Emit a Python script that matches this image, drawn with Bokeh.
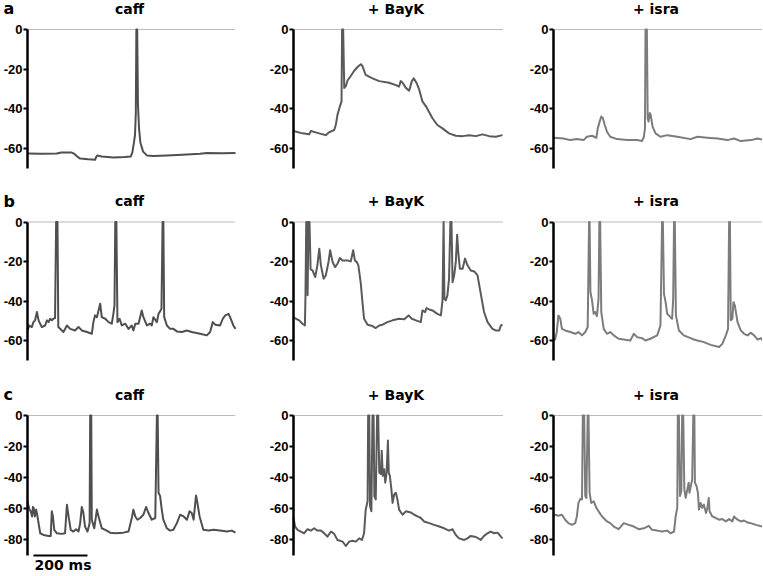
from bokeh.plotting import figure
from bokeh.layouts import gridplot
from bokeh.models import FixedTicker, Range1d
from bokeh.core.properties import value
from bokeh.embed import file_html
from bokeh.resources import INLINE

# ---------------- data (time in ms, membrane potential in mV) ----------------
row_letters = ["a", "b", "c"]
col_titles = ["caff", "+ BayK", "+ isra"]

a1_t = [0, 50, 108, 125, 164, 172, 183, 195, 225, 250, 255, 258, 275, 318, 360, 382, 388, 394, 398, 401,
        403, 406, 409, 413, 418, 428, 442, 466, 516, 590, 639, 664, 720, 770]
a1_v = [-62.5, -62.6, -62.4, -61.9, -62.0, -62.5, -63.8, -65.0, -65.4, -65.6, -64.0, -63.5, -64.0, -64.4, -64.2,
        -64.0, -62.0, -57.0, -53.0, -42.0, 0, 0, -38.0, -50.0, -57.0, -61.5, -63.4, -63.7, -63.4, -63.0,
        -62.6, -62.2, -62.3, -62.2]

a2_t = [0, 33, 58, 64, 82, 107, 119, 131, 150, 156, 162, 171, 177, 179, 183, 187, 193, 199, 211, 223,
        236, 248, 254, 266, 291, 316, 352, 377, 389, 395, 402, 414, 426, 436, 443, 453, 463, 475, 488, 512,
        530, 549, 573, 598, 623, 647, 672, 696, 721, 745, 770]
a2_v = [-51.1, -52.3, -52.8, -51.1, -51.8, -52.8, -53.2, -51.8, -50.6, -48.0, -43.0, -38.7, -36.2, 0, 0,
        -29.4, -28.5, -25.7, -23.4, -20.9, -18.9, -17.5, -18.4, -22.9, -24.6, -26.0, -26.8, -28.0, -28.7,
        -26.0, -26.8, -29.4, -30.8, -26.0, -24.6, -26.8, -30.2, -36.2, -38.7, -44.7, -48.1, -49.8, -52.3,
        -53.5, -53.7, -53.2, -53.7, -52.8, -53.7, -54.0, -53.2]

a3_t = [0, 37, 62, 86, 111, 123, 142, 158, 163, 170, 176, 182, 189, 197, 209, 234, 271, 308, 326, 333,
        337, 339, 344, 347, 350, 355, 358, 365, 376, 394, 419, 456, 505, 530, 567, 604, 641, 665, 690, 727,
        752, 770]
a3_v = [-54.5, -54.9, -55.7, -55.2, -55.7, -54.0, -53.5, -54.5, -49.8, -46.4, -43.8, -44.7, -48.1, -51.5,
        -54.0, -55.2, -55.7, -55.7, -56.2, -54.0, -49.8, 0, 0, -44.7, -46.4, -42.1, -43.0, -48.9, -52.3,
        -54.0, -53.2, -54.0, -55.2, -54.0, -54.5, -54.9, -55.7, -54.9, -56.2, -55.7, -54.9, -55.4]

b1_t = [0, 7, 16, 22, 28, 35, 41, 53, 65, 72, 78, 84, 90, 96, 102, 106, 111, 114, 121, 133,
        146, 158, 176, 189, 201, 220, 238, 244, 250, 257, 263, 269, 275, 288, 300, 312, 318, 322, 325, 329,
        333, 341, 349, 362, 374, 386, 392, 399, 411, 423, 429, 442, 454, 460, 466, 479, 485, 491, 496, 500,
        503, 506, 516, 528, 540, 553, 571, 590, 608, 639, 664, 676, 686, 695, 713, 723, 732, 744, 750, 762,
        770]
b1_v = [-54.8, -52.3, -53.1, -50.6, -49.7, -45.5, -49.7, -53.1, -52.3, -49.7, -50.6, -48.9, -49.7, -48.9,
        -48.6, 0, 0, -53.1, -54.0, -55.6, -52.3, -54.0, -54.8, -53.1, -54.8, -55.6, -56.5, -50.6, -47.2,
        -48.1, -44.7, -41.3, -48.1, -48.9, -50.6, -51.4, -46.4, -42.2, 0, 0, -50.6, -48.9, -52.3, -51.4,
        -54.0, -52.3, -54.8, -51.4, -51.4, -44.7, -48.1, -52.3, -51.4, -52.3, -48.1, -50.6, -46.4, -45.2,
        -43.8, 0, 0, -48.1, -52.3, -54.0, -54.0, -55.3, -55.6, -54.8, -55.6, -56.5, -57.3, -55.6, -50.6,
        -51.9, -52.3, -48.9, -47.2, -46.4, -48.1, -52.3, -54.0]

b2_t = [0, 9, 21, 33, 42, 44, 47, 49, 52, 55, 59, 63, 70, 80, 88, 95, 101, 111, 119, 129,
        135, 144, 153, 162, 171, 181, 199, 211, 220, 226, 233, 239, 248, 254, 260, 273, 291, 303, 316, 328,
        346, 365, 389, 408, 424, 436, 451, 469, 475, 485, 490, 500, 512, 530, 543, 549, 553, 556, 561, 567,
        573, 578, 582, 586, 592, 598, 603, 607, 613, 623, 632, 641, 653, 666, 678, 690, 702, 715, 733, 745,
        758, 764, 770]
b2_v = [-48.1, -48.9, -49.7, -51.4, -52.3, -38.0, 0, 0, -37.0, 0, 0, -24.0, -24.5, -27.8, -21.9, -13.5,
        -21.9, -28.7, -27.0, -20.2, -14.3, -20.2, -22.8, -21.1, -18.2, -19.4, -19.4, -19.9, -14.3, -19.4,
        -20.2, -21.9, -31.2, -40.5, -48.9, -51.9, -52.6, -53.6, -52.3, -51.9, -50.6, -49.7, -48.9, -49.2,
        -47.2, -48.9, -49.7, -50.6, -44.7, -45.5, -43.5, -44.2, -44.7, -46.4, -47.2, -39.6, 0, -38.8, -39.6,
        -37.1, -28.7, 0, 0, -30.4, -27.0, -20.2, -6.4, -15.2, -23.6, -23.6, -18.5, -21.9, -24.5, -25.0,
        -27.0, -36.3, -45.5, -50.6, -54.0, -54.8, -54.8, -52.3, -51.9]

b3_t = [0, 6, 12, 18, 25, 31, 43, 62, 80, 92, 105, 117, 126, 131, 133, 136, 142, 148, 154, 160,
        166, 169, 172, 176, 185, 197, 209, 222, 240, 259, 283, 296, 308, 326, 339, 357, 382, 394, 400, 403,
        407, 413, 419, 431, 437, 441, 444, 447, 451, 462, 480, 505, 517, 530, 554, 579, 610, 622, 635, 643,
        647, 650, 653, 659, 663, 668, 678, 690, 702, 715, 727, 739, 752, 764, 770]
b3_v = [-59.0, -59.4, -55.6, -47.2, -48.9, -54.0, -54.8, -55.6, -56.5, -55.6, -57.3, -55.6, -53.1, 0, 0,
        -35.4, -39.6, -46.4, -45.5, -47.6, -38.8, 0, 0, -45.5, -54.0, -56.5, -55.6, -57.3, -59.0, -59.4,
        -59.9, -56.5, -58.2, -58.7, -59.9, -59.0, -57.3, -52.3, 0, 0, -36.3, -40.5, -46.4, -48.1, -48.9,
        -38.8, 0, 0, -47.2, -54.8, -57.3, -58.7, -59.4, -59.9, -60.7, -62.1, -63.2, -61.6, -57.3, -54.0,
        0, 0, -49.7, -48.9, -40.5, -42.2, -50.6, -54.8, -56.5, -57.3, -56.0, -57.3, -59.4, -58.7, -59.9]

c1_t = [0, 4, 7, 12, 17, 20, 23, 27, 32, 37, 42, 47, 59, 78, 86, 90, 94, 99, 109, 127,
        139, 146, 152, 160, 170, 180, 189, 195, 201, 207, 213, 222, 230, 232, 236, 238, 247, 257, 263, 275,
        288, 306, 325, 355, 374, 386, 392, 399, 407, 417, 429, 439, 448, 460, 473, 479, 482, 485, 491, 497,
        503, 516, 528, 540, 553, 565, 578, 590, 600, 608, 615, 621, 624, 629, 637, 651, 670, 689, 713, 738,
        756, 770]
c1_v = [-55.1, -58.4, -60.5, -61.6, -64.9, -58.8, -59.4, -64.9, -60.5, -64.9, -70.3, -75.7, -76.8, -77.4,
        -77.4, -61.6, -64.9, -73.5, -75.7, -76.1, -75.7, -57.3, -64.9, -73.5, -74.6, -73.1, -74.6, -69.2,
        -58.8, -62.7, -71.4, -74.6, -69.2, 0, 0, -67.0, -72.5, -60.5, -64.9, -72.5, -73.5, -75.3, -75.7,
        -75.3, -74.6, -65.9, -60.5, -64.9, -67.0, -65.9, -63.8, -58.8, -62.7, -67.0, -65.9, 0, 0, -49.7,
        -51.8, -60.5, -67.0, -72.5, -74.0, -73.5, -69.2, -63.8, -64.9, -67.0, -61.6, -62.7, -67.0, -56.2,
        -51.4, -56.2, -64.9, -73.5, -74.0, -73.5, -74.0, -74.6, -74.0, -75.3]

c2_t = [0, 6, 15, 27, 39, 52, 64, 76, 88, 101, 113, 125, 138, 150, 162, 181, 193, 205, 217, 230,
        242, 252, 260, 266, 273, 275, 279, 282, 287, 291, 295, 298, 303, 308, 312, 316, 322, 325, 329, 334,
        338, 343, 348, 351, 355, 360, 365, 371, 377, 383, 389, 402, 414, 432, 445, 457, 469, 481, 500, 518,
        537, 555, 573, 586, 598, 610, 629, 641, 653, 672, 690, 702, 715, 727, 739, 752, 764, 770]
c2_v = [-65.9, -71.4, -73.5, -74.6, -75.7, -73.1, -74.0, -72.5, -74.0, -74.0, -75.7, -77.9, -74.6, -76.1,
        -80.0, -81.1, -83.9, -81.1, -80.5, -81.1, -79.0, -80.0, -75.7, -60.5, -55.1, 0, 0, -58.4, -61.6, 0,
        0, -51.8, -54.0, 0, 0, -36.7, -37.7, -22.6, -38.8, -34.5, -43.2, -36.7, -16.1, -36.7, -38.8, -46.4,
        -56.2, -50.8, -49.7, -54.0, -60.5, -63.8, -61.6, -62.3, -63.8, -64.9, -65.9, -68.1, -69.2, -70.3,
        -71.4, -72.5, -74.0, -73.1, -76.8, -79.0, -80.0, -79.0, -77.4, -78.1, -80.0, -77.4, -75.7, -74.6,
        -75.7, -75.3, -77.9, -79.0]

c3_t = [0, 6, 18, 31, 43, 55, 68, 80, 86, 92, 99, 105, 108, 113, 117, 121, 126, 129, 133, 139,
        148, 158, 166, 179, 197, 209, 222, 240, 259, 277, 296, 314, 333, 351, 363, 382, 400, 419, 431, 444,
        450, 456, 458, 462, 466, 471, 474, 478, 482, 487, 493, 498, 501, 506, 511, 515, 519, 521, 527, 532,
        536, 542, 548, 554, 562, 567, 572, 575, 585, 598, 610, 622, 635, 647, 659, 665, 678, 690, 702, 715,
        727, 746, 770]
c3_v = [-64.9, -63.8, -64.4, -63.8, -67.0, -69.2, -70.3, -69.2, -64.9, -56.2, -53.6, -54.0, 0, 0, -51.8,
        -53.0, 0, 0, -49.7, -56.2, -55.1, -59.4, -61.6, -64.9, -68.1, -69.2, -71.4, -73.1, -69.2, -70.3,
        -71.4, -73.1, -72.5, -70.9, -73.5, -74.0, -74.6, -74.0, -75.7, -74.6, -64.9, -59.4, 0, 0, -51.8,
        -48.6, 0, 0, -47.5, -52.9, -47.5, -43.2, -49.7, -45.3, -41.0, 0, 0, -43.2, -45.3, -49.7, -60.5,
        -56.2, -59.4, -57.3, -62.7, -59.4, -53.0, -61.6, -64.9, -65.9, -67.0, -66.6, -68.1, -66.6, -68.1,
        -64.9, -67.0, -68.1, -67.5, -68.8, -69.2, -70.3, -71.4]

traces = [[(a1_t, a1_v), (a2_t, a2_v), (a3_t, a3_v)],
          [(b1_t, b1_v), (b2_t, b2_v), (b3_t, b3_v)],
          [(c1_t, c1_v), (c2_t, c2_v), (c3_t, c3_v)]]

row_ticks = [[0, -20, -40, -60], [0, -20, -40, -60], [0, -20, -40, -60, -80]]
row_axis_low = [-70, -70, -90]
time_span = 770           # ms shown in each trace
scalebar_start = 22       # ms
scalebar_len = 200        # ms
scalebar_level = -90      # mV
scalebar_text = "200 ms"

# ---------------- layout / style (pixels) ----------------
TICK_FONT = "Liberation Sans"
TEXT_FONT = "DejaVu Sans"
fig_w = [258, 257, 247]
axis_px = [27, 35, 38]          # x of the y-axis inside each column
trace_px = [208, 209, 209]      # width taken by the 770 ms trace
fig_h = [183, 190, 202]
zero_px = [29, 38.5, 42]        # y of the 0 mV line inside each row
axis_len_px = [139, 138.5, 140] # length of the y axis (0 -> lowest bound)
title_gap_px = 21               # 0-line to title anchor
letter_x_px = 3
scale_text_gap_px = 9           # scale bar to its label anchor
scale_text_dx_px = 2.5
col_color = ["#4f4f4f", "#5a5a5a", "#7c7c7c"]

grid = []
for r in range(3):
    ppm = axis_len_px[r] / (0 - row_axis_low[r])          # pixels per mV
    y_top = zero_px[r] / ppm
    y_bot = -(fig_h[r] - zero_px[r]) / ppm
    grow = []
    for c in range(3):
        t, v = traces[r][c]
        mspp = time_span / trace_px[c]                    # ms per pixel
        x0 = -axis_px[c] * mspp
        x1 = x0 + fig_w[c] * mspp
        p = figure(width=fig_w[c], height=fig_h[r],
                   x_range=Range1d(x0, x1), y_range=Range1d(y_bot, y_top),
                   output_backend="svg", toolbar_location=None,
                   x_axis_location=None,
                   min_border_left=0, min_border_right=0,
                   min_border_top=0, min_border_bottom=0)
        p.outline_line_color = None
        p.grid.visible = False
        p.background_fill_color = "white"
        p.border_fill_color = "white"

        ax = p.yaxis[0]
        ax.fixed_location = 0
        ax.ticker = FixedTicker(ticks=row_ticks[r])
        ax.major_label_overrides = {tk: str(tk) for tk in row_ticks[r]}
        ax.bounds = (row_axis_low[r], 0)
        ax.axis_line_width = 2.5
        ax.axis_line_color = "black"
        ax.major_tick_line_width = 2
        ax.major_tick_line_color = "black"
        ax.major_tick_out = 4
        ax.major_tick_in = 0
        ax.minor_tick_line_color = None
        ax.major_label_text_font = TICK_FONT
        ax.major_label_text_font_style = "bold"
        ax.major_label_text_font_size = "13px"
        ax.major_label_text_color = "black"
        ax.major_label_standoff = 1

        # dotted 0 mV reference line along the trace
        p.line([0, time_span], [0, 0], line_color="#777777", line_dash="1 1", line_width=1)
        # recording trace
        p.line(t, v, line_color=col_color[c], line_width=2, line_join="round")

        # column title
        p.text(x=[time_span / 2 - 2 * mspp], y=[title_gap_px / ppm], text=[col_titles[c]],
               text_font=value(TEXT_FONT), text_font_style="bold", text_font_size="14px",
               text_color="black", text_align="center", text_baseline="alphabetic")
        if c == 0:
            p.text(x=[(letter_x_px - axis_px[c]) * mspp], y=[title_gap_px / ppm], text=[row_letters[r]],
                   text_font=value(TEXT_FONT), text_font_style="bold", text_font_size="16px",
                   text_color="black", text_align="left", text_baseline="alphabetic")
        if r == 2 and c == 0:
            p.line([scalebar_start, scalebar_start + scalebar_len], [scalebar_level, scalebar_level],
                   line_color="black", line_width=2)
            p.text(x=[scalebar_start + scalebar_len / 2 + scale_text_dx_px * mspp],
                   y=[scalebar_level - scale_text_gap_px / ppm],
                   text=[scalebar_text], text_font=value(TEXT_FONT), text_font_style="bold",
                   text_font_size="14px", text_color="black", text_align="center",
                   text_baseline="alphabetic")
        grow.append(p)
    grid.append(grow)

layout = gridplot(grid, toolbar_location=None)

open("out.html", "w").write(file_html(layout, INLINE))
